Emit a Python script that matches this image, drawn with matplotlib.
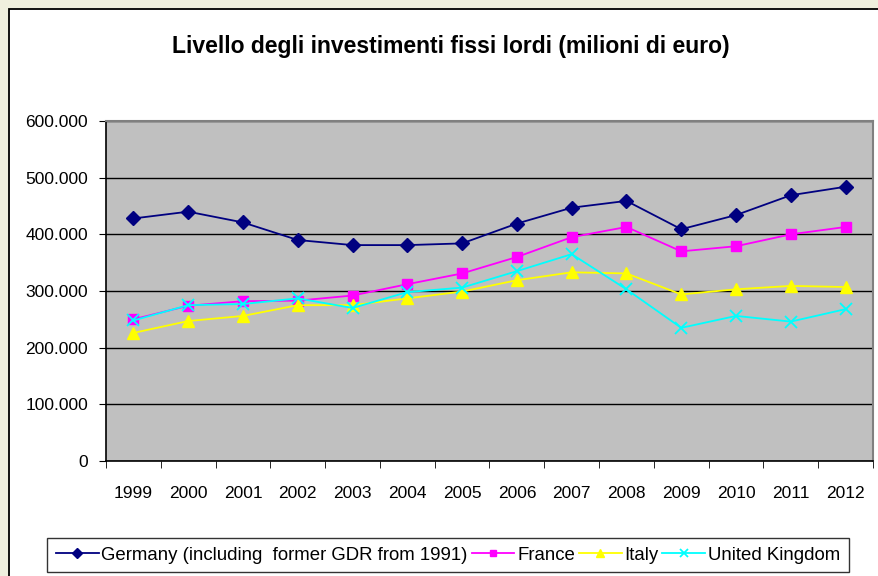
import matplotlib
matplotlib.use("Agg")
import matplotlib.pyplot as plt
from matplotlib.patches import Rectangle
from matplotlib.ticker import FuncFormatter

plt.rcParams['font.family'] = ['Liberation Sans', 'DejaVu Sans']

years = ["1999", "2000", "2001", "2002", "2003", "2004", "2005",
         "2006", "2007", "2008", "2009", "2010", "2011", "2012"]

# migliaia di milioni di euro
germany = [428, 440, 421, 390, 381, 381, 384, 419, 447, 459, 409, 434, 469, 484]
france = [250, 274, 282, 283, 292, 312, 331, 360, 395, 413, 370, 379, 400, 413]
italy = [226, 247, 256, 275, 275, 287, 299, 319, 333, 331, 294, 303, 309, 307]
uk = [248, 275, 277, 287, 270, 298, 306, 335, 365, 303, 235, 256, 246, 268]

series = [
    ("Germany (including  former GDR from 1991)", germany, "#000080", "D", 7.5),
    ("France", france, "#FF00FF", "s", 7),
    ("Italy", italy, "#FFFF00", "^", 8),
    ("United Kingdom", uk, "#00FFFF", "x", 8.5),
]

fig = plt.figure(figsize=(8.79, 5.76), dpi=100)
fig.patch.set_facecolor("#EFEFDE")
fig.patches.append(Rectangle((9 / 879, -0.1), 1.2, 1 - 9 / 576 + 0.1,
                             transform=fig.transFigure, facecolor="white",
                             edgecolor="black", linewidth=1.3, zorder=-5))

ax = fig.add_axes([106 / 879, 115 / 576, 767 / 879, 340 / 576])
ax.set_zorder(2)
ax.set_facecolor("#C0C0C0")

x = list(range(len(years)))
for name, vals, col, mk, ms in series:
    vals_k = [v * 1000 for v in vals]
    if mk == "x":
        ax.plot(x, vals_k, color=col, lw=1.3, marker=mk, ms=ms, mew=1.3, label=name)
    else:
        ax.plot(x, vals_k, color=col, lw=1.3, marker=mk, ms=ms, mec=col, label=name)

ax.set_xlim(-0.5, len(years) - 0.5)
ax.set_ylim(0, 600000)
ax.set_yticks(range(0, 600001, 100000))
ax.yaxis.set_major_formatter(FuncFormatter(lambda v, p: "0" if v == 0 else f"{int(v):,}".replace(",", ".")))
ax.grid(axis="y", color="black", lw=1)
ax.set_axisbelow(True)

ax.set_xticks(x)
ax.set_xticklabels(years)
ax.set_xticks([i - 0.5 for i in range(len(years) + 1)], minor=True)
ax.tick_params(axis="x", which="major", length=0, pad=18, labelsize=12.5)
ax.tick_params(axis="x", which="minor", length=5, direction="out", color="black")
ax.tick_params(axis="y", length=5, pad=8, labelsize=12.5)

for s in ["top", "right"]:
    ax.spines[s].set_color("#808080")
    ax.spines[s].set_linewidth(1.5)
for s in ["left", "bottom"]:
    ax.spines[s].set_color("black")
    ax.spines[s].set_linewidth(1.2)

fig.text(451 / 879, 1 - 46 / 576, "Livello degli investimenti fissi lordi (milioni di euro)",
         ha="center", va="center", fontsize=16.5, fontweight="bold")

leg = fig.legend(loc="center", bbox_to_anchor=(448 / 879, 1 - 555 / 576), ncol=4,
                 frameon=True, fancybox=False, shadow=False, fontsize=13.4,
                 handlelength=2.3, handletextpad=0.15, columnspacing=0.2,
                 borderpad=0.45, markerscale=0.65)
leg.get_frame().set_edgecolor("black")
leg.get_frame().set_linewidth(1)

fig.savefig("out.png", dpi=100, facecolor=fig.get_facecolor())
